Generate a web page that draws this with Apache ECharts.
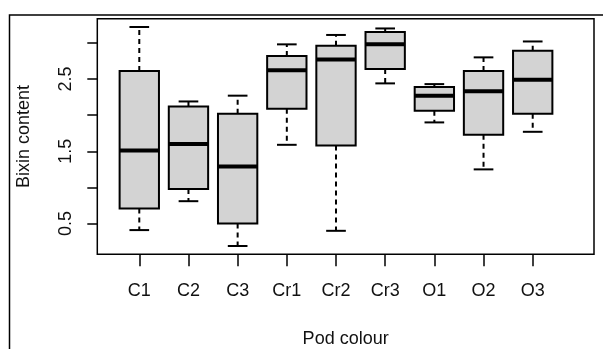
<!DOCTYPE html>
<html>
<head>
<meta charset="utf-8">
<script src="https://cdn.jsdelivr.net/npm/echarts@6/dist/echarts.min.js"></script>
<style>
  html, body { margin: 0; padding: 0; background: #fff; }
  #chart { width: 603px; height: 349px; }
</style>
</head>
<body>
<div id="chart"></div>
<script>
// groups on the x axis
const groups = ["C1", "C2", "C3", "Cr1", "Cr2", "Cr3", "O1", "O2", "O3"];
// five-number summaries
const lowWhisker = [0.41, 0.81, 0.19, 1.59, 0.40, 2.44, 1.90, 1.25, 1.77];
const q1 = [0.71, 0.98, 0.50, 2.09, 1.58, 2.64, 2.06, 1.73, 2.02];
const median = [1.51, 1.60, 1.29, 2.62, 2.77, 2.98, 2.27, 2.33, 2.49];
const q3 = [2.61, 2.12, 2.02, 2.82, 2.96, 3.15, 2.39, 2.61, 2.89];
const highWhisker = [3.22, 2.19, 2.27, 2.98, 3.11, 3.20, 2.43, 2.80, 3.02];
// y axis ticks / labels
const yTicks = [0.5, 1, 1.5, 2, 2.5, 3];
const yLabels = [0.5, 1.5, 2.5];

const yMin = 0.075, yMax = 3.335;
const font = "'Liberation Sans', Arial, sans-serif";

const boxData = groups.map((g, i) => [i, lowWhisker[i], q1[i], median[i], q3[i], highWhisker[i]]);

const renderBox = (params, api) => {
  const x = api.value(0);
  const band = api.size([1, 0])[0];
  const bw = band * 0.8, cw = bw / 2;
  const pLo = api.coord([x, api.value(1)]),
    pQ1 = api.coord([x, api.value(2)]),
    pMed = api.coord([x, api.value(3)]),
    pQ3 = api.coord([x, api.value(4)]),
    pHi = api.coord([x, api.value(5)]);
  const cx = pMed[0];
  const dash = { stroke: "#000", lineWidth: 2, lineDash: [5, 4] };
  const solid = { stroke: "#000", lineWidth: 2 };
  return {
    type: "group",
    children: [
      { type: "line", shape: { x1: cx, y1: pQ3[1], x2: cx, y2: pHi[1] }, style: dash },
      { type: "line", shape: { x1: cx, y1: pQ1[1], x2: cx, y2: pLo[1] }, style: dash },
      { type: "line", shape: { x1: cx - cw / 2, y1: pHi[1], x2: cx + cw / 2, y2: pHi[1] }, style: solid },
      { type: "line", shape: { x1: cx - cw / 2, y1: pLo[1], x2: cx + cw / 2, y2: pLo[1] }, style: solid },
      {
        type: "rect",
        shape: { x: cx - bw / 2, y: pQ3[1], width: bw, height: pQ1[1] - pQ3[1] },
        style: { fill: "#d3d3d3", stroke: "#000", lineWidth: 2 },
      },
      { type: "line", shape: { x1: cx - bw / 2, y1: pMed[1], x2: cx + bw / 2, y2: pMed[1] }, style: { stroke: "#000", lineWidth: 4 } },
    ],
  };
};

const chart = echarts.init(document.getElementById("chart"));
chart.setOption({
  animation: false,
  backgroundColor: "#fff",
  textStyle: { fontFamily: font, color: "#111" },
  graphic: [
    {
      type: "rect",
      left: 7, top: 12.5,
      shape: { width: 700, height: 400 },
      style: { fill: "none", stroke: "#000", lineWidth: 1.5 },
      silent: true,
    },
  ],
  grid: [
    // boxes
    { left: 114.7, right: 45.7, top: 18.7, bottom: 94.7, outerBoundsMode: "none", containLabel: false },
    // plot frame
    { left: 97.3, right: 9, top: 18.7, bottom: 94.7, outerBoundsMode: "none", containLabel: false, show: true, borderColor: "#000", borderWidth: 1.5, backgroundColor: "transparent" },
  ],
  xAxis: [
    {
      gridIndex: 0,
      type: "category",
      data: groups,
      boundaryGap: true,
      axisLine: { show: false },
      axisTick: { show: true, alignWithLabel: true, length: 12, lineStyle: { color: "#000", width: 1.5 } },
      axisLabel: { fontSize: 18, color: "#111", margin: 28, fontFamily: font },
    },
    {
      gridIndex: 1,
      type: "value",
      min: 0, max: 1,
      axisLine: { show: false },
      axisTick: { show: false },
      axisLabel: { show: false },
      splitLine: { show: false },
      name: "Pod colour",
      nameLocation: "middle",
      nameGap: 76,
      nameTextStyle: { fontSize: 18, color: "#111", fontFamily: font },
    },
  ],
  yAxis: [
    {
      gridIndex: 0,
      type: "value",
      min: yMin, max: yMax,
      show: false,
      splitLine: { show: false },
    },
    {
      gridIndex: 1,
      type: "value",
      min: yMin, max: yMax,
      axisLine: { show: false },
      splitLine: { show: false },
      axisTick: { show: true, length: 10, customValues: yTicks, lineStyle: { color: "#000", width: 1.5 } },
      axisLabel: { show: true, customValues: yLabels, rotate: 90, fontSize: 18, color: "#111", margin: 22, fontFamily: font, formatter: (v) => v.toFixed(1) },
      name: "Bixin content",
      nameLocation: "middle",
      nameGap: 64,
      nameTextStyle: { fontSize: 18, color: "#111", fontFamily: font },
    },
  ],
  series: [
    {
      type: "custom",
      xAxisIndex: 0,
      yAxisIndex: 0,
      renderItem: renderBox,
      encode: { x: 0, y: [1, 2, 3, 4, 5] },
      data: boxData,
    },
  ],
});
</script>
</body>
</html>
